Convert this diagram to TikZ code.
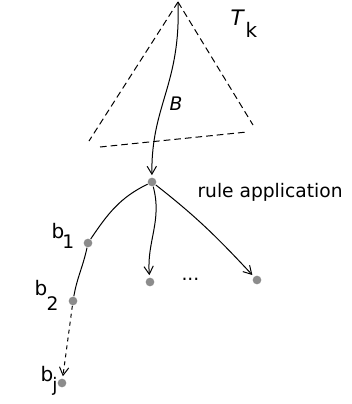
\documentclass[tikz,border=0pt]{standalone}
\usepackage{fontspec}
\setmainfont{DejaVu Sans}
\usetikzlibrary{arrows.meta}
\definecolor{dotgray}{HTML}{8C8C8C}
\begin{document}
\begin{tikzpicture}[x=0.75pt,y=-0.75pt,line width=0.75pt,
  dot/.style={circle,fill=dotgray,draw=none,inner sep=0pt,minimum size=6.5pt},
  arr/.style={-{Straight Barb[length=6pt,width=7pt]},shorten >=1.5pt},
  tedge/.style={dash pattern=on 5pt off 3pt},
  lbl/.style={inner sep=0pt,anchor=base west,font=\fontsize{15}{15}\selectfont},
  sub/.style={inner sep=0pt,anchor=base west,font=\fontsize{14}{14}\selectfont}]
\useasboundingbox (0,0) rectangle (351,404);
% triangle T_k
\coordinate (apex) at (178,2);
\coordinate (L) at (89,141);
\coordinate (BL) at (100,147);
\coordinate (BR) at (247,132);
\coordinate (R) at (253,125);
\draw[tedge] (apex) -- (L);
\draw[tedge] (BL) -- (BR);
\draw[tedge] (apex) -- (R);
% dots
\node[dot] (r) at (152,182) {};
\node[dot] (b1) at (88,243) {};
\node[dot] (b2) at (73,301) {};
\node[dot] (bj) at (62,383) {};
\node[dot] (c2) at (150,282) {};
\node[dot] (c3) at (257,280) {};
% connectors
\draw[arr] (apex) .. controls (181,85) and (151,105) .. (r);
\draw (r) to[out=206,in=56] (b1);
\draw (b1) to[out=-102,in=80] (b2);
\draw[dashed,arr] (b2) -- (bj);
\draw[arr] (r) to[out=-75,in=95] (c2);
\draw[arr] (r) to[out=-38,in=133] (c3);
% labels
\node[inner sep=0pt,anchor=base west,font=\fontsize{16}{16}\selectfont\itshape] (T) at (230,25) {T};
\node[inner sep=0pt,anchor=base west,font=\fontsize{15}{15}\selectfont] (k) at (245,37) {k};
\node[inner sep=0pt,anchor=base west,font=\fontsize{14}{14}\selectfont\itshape] (Blbl) at (169,110) {B};
\node[inner sep=0pt,anchor=base west,font=\fontsize{14}{14}\selectfont] (rule) at (197,197) {rule application};
\node[inner sep=0pt,anchor=base west,font=\fontsize{14}{14}\selectfont] (dots) at (181,280) {...};
\node[lbl] (lb1) at (51,238) {b};
\node[sub] (ls1) at (62,248) {1};
\node[lbl] (lb2) at (34,295) {b};
\node[sub] (ls2) at (46,310) {2};
\node[lbl] (lbj) at (40,381) {b};
\node[sub] (lsj) at (52,391) {j};
\end{tikzpicture}
\end{document}
